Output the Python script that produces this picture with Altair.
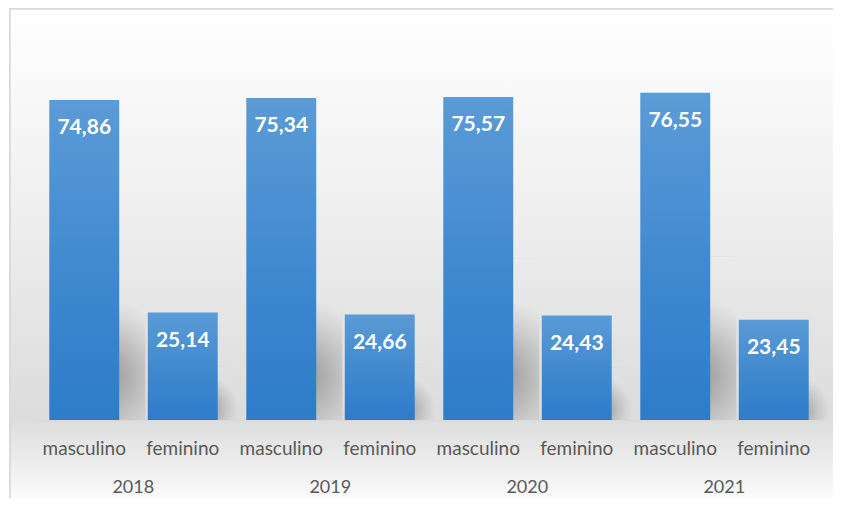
import altair as alt
import pandas as pd

anos = ["2018", "2018", "2019", "2019", "2020", "2020", "2021", "2021"]
sexos = ["masculino", "feminino"] * 4
valores = [74.86, 25.14, 75.34, 24.66, 75.57, 24.43, 76.55, 23.45]
rotulos = ["74,86", "25,14", "75,34", "24,66", "75,57", "24,43", "76,55", "23,45"]

df = pd.DataFrame({"ano": anos, "sexo": sexos, "valor": valores, "rotulo": rotulos})
df["chave"] = df["ano"] + "|" + df["sexo"]
df["sombra_top"] = df["valor"] * 0.5
df["sombra_bot"] = 0
ordem = list(df["chave"])

W, H = 788, 342
FONT = "Lato"
GRAY = "#595959"

x = alt.X("chave:N", sort=ordem, scale=alt.Scale(paddingInner=0.29, paddingOuter=0.145),
          axis=alt.Axis(title=None, ticks=False, domain=True, domainColor="#d9d9d9",
                        labelAngle=0, labelFont=FONT, labelFontSize=19, labelColor=GRAY,
                        labelPadding=28, labelBaseline="middle", zindex=1,
                        labelExpr="split(datum.label, '|')[1]"))
yscale = alt.Scale(domain=[0, 80])
y = alt.Y("valor:Q", scale=yscale, axis=None)

base = alt.Chart(df)

frame = base.mark_rect(
    fill=alt.LinearGradient(gradient="linear", x1=0, y1=0, x2=0, y2=1, stops=[
        alt.GradientStop(color="#ffffff", offset=0),
        alt.GradientStop(color="#f3f3f3", offset=0.3),
        alt.GradientStop(color="#dcdcdc", offset=0.8),
        alt.GradientStop(color="#fbfbfb", offset=0.96),
        alt.GradientStop(color="#ffffff", offset=1)]),
    stroke="#d9d9d9", strokeWidth=1.5
).encode(x=alt.value(-25), x2=alt.value(W + 40), y=alt.value(-69), y2=alt.value(H + 100))

sombra = base.mark_bar(
    xOffset=26,
    fill=alt.RadialGradient(gradient="radial", x1=0.45, y1=0.72, r1=0, x2=0.45, y2=0.72, r2=0.5,
                            stops=[alt.GradientStop(color="rgba(90,90,90,0.6)", offset=0),
                                   alt.GradientStop(color="rgba(110,110,110,0.32)", offset=0.45),
                                   alt.GradientStop(color="rgba(140,140,140,0)", offset=0.95)]),
).encode(x=x, y=alt.Y("sombra_top:Q", scale=yscale, axis=None), y2="sombra_bot:Q")

barras = base.mark_bar(
    color=alt.LinearGradient(gradient="linear", x1=0, y1=0, x2=0, y2=1, stops=[
        alt.GradientStop(color="#5b9bd6", offset=0),
        alt.GradientStop(color="#3d87cf", offset=0.6),
        alt.GradientStop(color="#2e7bc8", offset=1)])
).encode(x=x, y=y)

valores_txt = base.mark_text(
    font=FONT, fontSize=21, fontWeight="bold", color="white", dy=28, baseline="middle"
).encode(x=x, y=y, text="rotulo:N")

ano_txt = base.transform_filter(alt.datum.sexo == "masculino").mark_text(
    font=FONT, fontSize=18, color=GRAY, baseline="middle", dx=49
).encode(x=x, y=alt.value(H + 68), text="ano:N")

chart = alt.layer(frame, sombra, barras, valores_txt, ano_txt).properties(
    width=W, height=H,
    autosize=alt.AutoSizeParams(type="none"),
    padding={"left": 27, "top": 70, "right": 10, "bottom": 78},
).configure_view(stroke=None).configure(background="white")

chart.save("out.html", embed_options={"renderer": "svg", "actions": False})
